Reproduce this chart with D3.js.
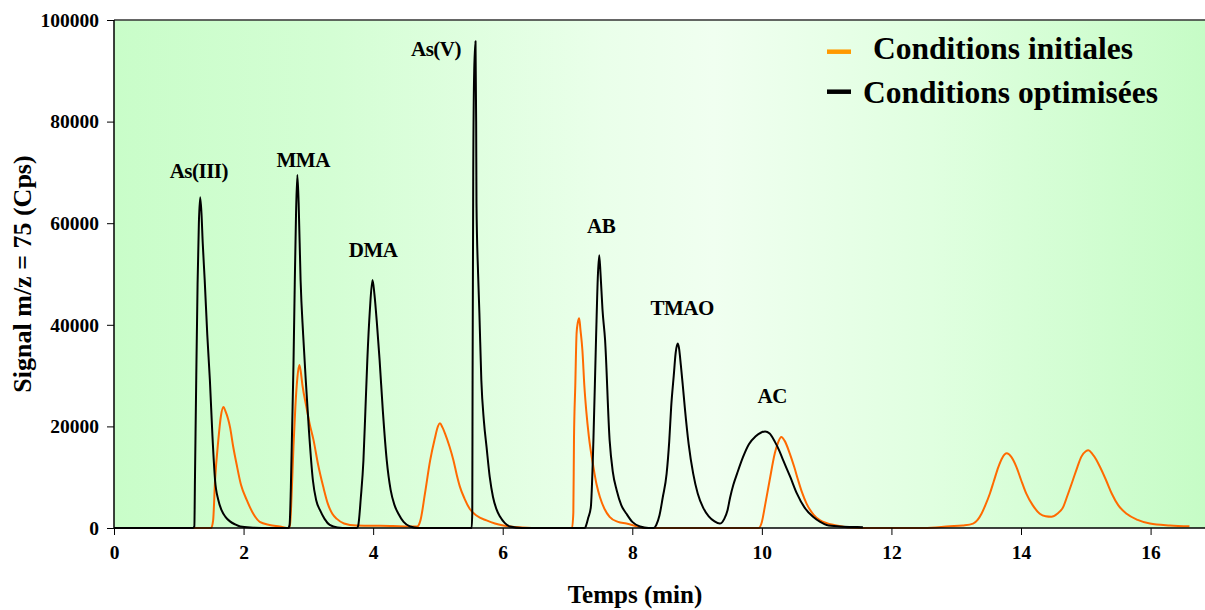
<!DOCTYPE html>
<html>
<head>
<meta charset="utf-8">
<script src="https://cdn.jsdelivr.net/npm/d3@7"></script>
<style>
  html, body { margin: 0; padding: 0; background: #ffffff; }
  svg { display: block; }
  text { font-family: "Liberation Serif", "Times New Roman", serif; font-weight: bold; fill: #000; }
</style>
</head>
<body>
<svg id="chart" width="1205" height="610"></svg>
<script>
// ---------- DATA ----------
// Conditions optimisées (black): time (min) and signal (Cps)
const timeOpt = [0, 1.22, 1.24, 1.25, 1.27, 1.29, 1.31, 1.33, 1.35, 1.37, 1.40, 1.44, 1.48, 1.52, 1.56, 1.61, 1.66, 1.72, 1.79, 1.87, 1.95, 2.10, 2.40,
  2.69, 2.71, 2.73, 2.75, 2.77, 2.79, 2.81, 2.83, 2.85, 2.88, 2.92, 2.96, 3.01, 3.07, 3.12, 3.18, 3.25, 3.33, 3.45, 3.60,
  3.75, 3.77, 3.81, 3.85, 3.88, 3.91, 3.95, 3.99, 4.02, 4.06, 4.10, 4.15, 4.21, 4.27, 4.33, 4.39, 4.47, 4.57, 4.70,
  5.52, 5.53, 5.535, 5.545, 5.56, 5.58, 5.59, 5.595, 5.62, 5.64, 5.67, 5.71, 5.75, 5.80, 5.85, 5.90, 5.96, 6.03, 6.11, 6.30,
  7.27, 7.29, 7.32, 7.36, 7.40, 7.44, 7.47, 7.49, 7.51, 7.54, 7.58, 7.65, 7.70, 7.76, 7.83, 7.91, 8.00, 8.12, 8.25,
  8.33, 8.37, 8.42, 8.47, 8.53, 8.57, 8.60, 8.64, 8.67, 8.70, 8.72, 8.75, 8.78, 8.81, 8.87, 8.94, 9.01, 9.09, 9.18, 9.27, 9.35,
  9.42, 9.47, 9.51, 9.56, 9.62, 9.71, 9.80, 9.90, 9.99, 10.05, 10.12, 10.20, 10.27, 10.33, 10.44, 10.54, 10.66, 10.79, 10.90, 11.00, 11.20, 11.40, 11.56];
const signalOpt = [0, 0, 300, 10000, 30000, 48000, 60000, 65100, 62000, 56000, 48800, 38000, 29100, 18000, 9400, 5500, 3500, 2200, 1300, 700, 300, 100, 0,
  0, 600, 8000, 20000, 32000, 48000, 62000, 69500, 64000, 48800, 38000, 29100, 19000, 9400, 5500, 3500, 1800, 600, 100, 0,
  0, 500, 6000, 13300, 23000, 33000, 43000, 48800, 46000, 40000, 33000, 23000, 13300, 7500, 4500, 2800, 1200, 300, 0,
  0, 3000, 30000, 70000, 90000, 95800, 80000, 63900, 50000, 42300, 29100, 21000, 16000, 10000, 6100, 3800, 2200, 1000, 300, 0,
  0, 600, 2000, 4100, 17300, 37000, 50000, 53700, 50000, 43000, 37000, 17300, 11000, 7400, 4500, 2800, 1200, 300, 0,
  0, 600, 2500, 6000, 10700, 17000, 23800, 30000, 34500, 36300, 35500, 32000, 28000, 23800, 16500, 10700, 6800, 4100, 2300, 1300, 870,
  1800, 3500, 6000, 8500, 10800, 14000, 16500, 18000, 18800, 19000, 18600, 17000, 15200, 13300, 10000, 6800, 4000, 2200, 1200, 600, 300, 200, 150];

// Conditions initiales (orange)
const timeInit = [0, 1.50, 1.53, 1.56, 1.61, 1.65, 1.69, 1.72, 1.76, 1.79, 1.84, 1.89, 1.96, 2.05, 2.15, 2.25, 2.40, 2.56, 2.70,
  2.72, 2.74, 2.77, 2.80, 2.83, 2.86, 2.88, 2.91, 2.97, 3.02, 3.08, 3.15, 3.23, 3.30, 3.37, 3.44, 3.55, 3.74, 4.00, 4.30, 4.55, 4.68,
  4.73, 4.80, 4.88, 4.95, 5.00, 5.03, 5.07, 5.11, 5.18, 5.24, 5.29, 5.34, 5.41, 5.49, 5.60, 5.75, 5.88, 6.01, 6.30, 6.60,
  7.07, 7.09, 7.10, 7.12, 7.14, 7.16, 7.18, 7.20, 7.23, 7.26, 7.29, 7.33, 7.40, 7.45, 7.50, 7.57, 7.65, 7.78, 7.91, 8.05, 8.20,
  9.95, 10.00, 10.05, 10.12, 10.20, 10.25, 10.30, 10.35, 10.43, 10.50, 10.56, 10.62, 10.69, 10.80, 10.90, 11.15, 11.50,
  12.50, 12.90, 13.10, 13.26, 13.33, 13.39, 13.45, 13.52, 13.58, 13.65, 13.71, 13.78, 13.85, 13.93, 14.00, 14.08, 14.18, 14.29, 14.38, 14.47,
  14.56, 14.65, 14.72, 14.80, 14.87, 14.93, 15.00, 15.04, 15.10, 15.16, 15.22, 15.31, 15.40, 15.50, 15.63, 15.80, 15.99, 16.30, 16.60];
const signalInit = [0, 0, 1500, 9400, 17300, 22000, 23800, 23000, 21500, 19900, 16000, 12700, 8500, 5500, 2800, 1200, 600, 300, 0,
  1000, 6000, 16000, 24000, 29500, 32100, 31000, 28000, 23800, 20500, 17300, 12500, 8100, 4800, 2800, 1800, 900, 500, 450, 400, 300, 300,
  1500, 6800, 13300, 17500, 20000, 20600, 19800, 18600, 16000, 13300, 10500, 8100, 5800, 3800, 2400, 1500, 900, 500, 100, 0,
  0, 3000, 17300, 28000, 38300, 40500, 41300, 39000, 35000, 28000, 23000, 18000, 12000, 8500, 6100, 3800, 2200, 1200, 870, 400, 0,
  0, 1200, 4500, 9400, 14700, 16800, 17900, 17200, 14700, 12000, 9400, 7000, 4800, 2600, 1500, 500, 0,
  0, 330, 500, 870, 1600, 2800, 4500, 6800, 9200, 12000, 13800, 14700, 14000, 12000, 9500, 6800, 4500, 2800, 2300, 2200,
  2800, 4100, 6500, 9400, 12000, 14000, 15100, 15300, 14600, 13500, 12000, 9500, 6800, 4500, 2800, 1600, 870, 500, 330];

// Peak labels (centre time, baseline signal)
const peakNames = ["As(III)", "MMA", "DMA", "As(V)", "AB", "TMAO", "AC"];
const peakTimes = [1.31, 2.92, 4.00, 4.97, 7.52, 8.77, 10.16];
const peakSignals = [68900, 71100, 53400, 93000, 58100, 41900, 24600];

// Axis ticks
const xTicks = [0, 2, 4, 6, 8, 10, 12, 14, 16];
const yTicks = [0, 20000, 40000, 60000, 80000, 100000];

// Legend
const legendLabels = ["Conditions initiales", "Conditions optimisées"];
const legendColors = ["#ff9900", "#000000"];

// ---------- CHART ----------
const W = 1205, H = 610;
const margin = { left: 114, right: 0, top: 20, bottom: 82 };
const svg = d3.select("#chart");

const x = d3.scaleLinear().domain([0, 16.84]).range([margin.left, W - margin.right]);
const y = d3.scaleLinear().domain([0, 100000]).range([H - margin.bottom, margin.top]);

// background gradient
const defs = svg.append("defs");
const grad = defs.append("linearGradient").attr("id", "bg").attr("x1", "0%").attr("x2", "100%").attr("y1", "0%").attr("y2", "0%");
[[0, "#c9fdc9"], [0.2, "#d4fed4"], [0.45, "#eaffea"], [0.55, "#f0fff0"], [0.75, "#e0ffe0"], [1, "#c6fcc6"]].forEach(s => {
  grad.append("stop").attr("offset", (s[0] * 100) + "%").attr("stop-color", s[1]);
});
svg.append("rect")
  .attr("x", x(0)).attr("y", y(100000))
  .attr("width", x(16.84) - x(0)).attr("height", y(0) - y(100000))
  .attr("fill", "url(#bg)");

// top border
svg.append("line").attr("x1", x(0)).attr("x2", W).attr("y1", y(100000)).attr("y2", y(100000))
  .attr("stroke", "#333").attr("stroke-width", 1.5);

// lines
const line = d3.line().x(d => x(d[0])).y(d => y(d[1])).curve(d3.curveMonotoneX);
const initData = timeInit.map((t, i) => [t, signalInit[i]]);
const optData = timeOpt.map((t, i) => [t, signalOpt[i]]);

svg.append("path").datum(initData).attr("d", line)
  .attr("fill", "none").attr("stroke", "#ff6a00").attr("stroke-width", 2).attr("stroke-linejoin", "round");
svg.append("path").datum(optData).attr("d", line)
  .attr("fill", "none").attr("stroke", "#000").attr("stroke-width", 2).attr("stroke-linejoin", "round");

// axes
const xAxis = d3.axisBottom(x).tickValues(xTicks).tickSize(7).tickPadding(10).tickFormat(d3.format("d"));
const yAxis = d3.axisLeft(y).tickValues(yTicks).tickSize(7).tickPadding(8).tickFormat(d3.format("d"));

const gx = svg.append("g").attr("transform", `translate(0,${y(0)})`).call(xAxis);
const gy = svg.append("g").attr("transform", `translate(${x(0)},0)`).call(yAxis);
[gx, gy].forEach(g => {
  g.select(".domain").attr("stroke", "#000").attr("stroke-width", 1.5);
  g.selectAll(".tick line").attr("stroke", "#000").attr("stroke-width", 1);
  g.selectAll(".tick text").attr("font-size", 19.5).attr("font-family", "Liberation Serif, serif").attr("font-weight", "bold").attr("fill", "#000");
});
gx.select(".domain").attr("d", `M${x(0)},0H${W}`);
gy.select(".domain").attr("d", `M0,${y(0)}V${y(100000)}`);

// axis titles
svg.append("text").attr("x", 635).attr("y", 603).attr("text-anchor", "middle")
  .attr("font-size", 25).text("Temps (min)");
svg.append("text").attr("transform", `translate(31,274) rotate(-90)`).attr("text-anchor", "middle")
  .attr("font-size", 26).text("Signal m/z = 75 (Cps)");

// peak labels
svg.append("g").selectAll("text").data(peakNames).join("text")
  .attr("x", (d, i) => x(peakTimes[i])).attr("y", (d, i) => y(peakSignals[i]))
  .attr("text-anchor", "middle").attr("font-size", 21).attr("letter-spacing", "-0.5")
  .text(d => d);

// legend
const lg = svg.append("g");
const legY = [51.7, 91.7];
const legTextX = [873, 863];
const legBase = [59, 103];
legendLabels.forEach((lab, i) => {
  lg.append("line").attr("x1", 827).attr("x2", 851).attr("y1", legY[i]).attr("y2", legY[i])
    .attr("stroke", legendColors[i]).attr("stroke-width", 4.5);
  lg.append("text").attr("x", legTextX[i]).attr("y", legBase[i]).attr("font-size", 31.5).text(lab);
});
</script>
</body>
</html>
